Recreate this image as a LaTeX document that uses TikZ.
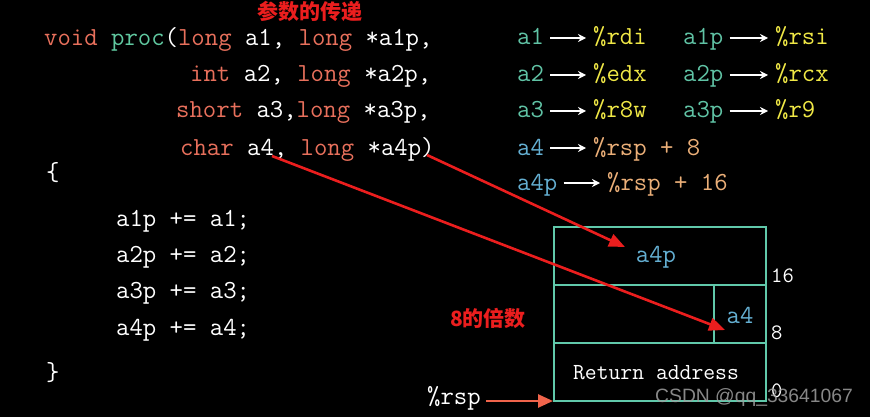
\documentclass[tikz,border=0pt]{standalone}
\usepackage{fontspec}
\usepackage{tikz}
\usetikzlibrary{arrows.meta}
\newfontfamily\cjk{Noto Sans CJK SC}
\newfontfamily\wmfont{Liberation Sans}
\definecolor{kwc}{RGB}{232,112,92}
\definecolor{fnc}{RGB}{96,200,160}
\definecolor{argc}{RGB}{96,195,165}
\definecolor{argbc}{RGB}{100,175,210}
\definecolor{regc}{RGB}{240,232,70}
\definecolor{stkc}{RGB}{235,175,120}
\definecolor{framec}{RGB}{96,200,170}
\definecolor{markc}{RGB}{235,30,30}
\definecolor{rspc}{RGB}{240,100,75}
\newcommand{\kw}[1]{\textcolor{kwc}{#1}}
\tikzset{
  regarg/.style={anchor=west, text=argc, text height=19pt, text depth=5pt, inner xsep=4pt},
  regnm/.style={anchor=west, text=regc, text height=19pt, text depth=5pt, inner xsep=4pt},
  maparr/.style={draw=white, line width=1.4pt, shorten <=2pt, shorten >=3pt, -{Stealth[length=8pt,width=8pt]}},
  redarr/.style={draw=markc, line width=2.6pt, -{Triangle[length=16pt,width=13pt]}},
  framel/.style={draw=framec, line width=2pt},
  offnum/.style={anchor=base west, font=\ttfamily\fontsize{22}{24}\selectfont},
  cjkmark/.style={text=markc, font=\cjk\bfseries\fontsize{21}{21}\selectfont}
}

\begin{document}
\begin{tikzpicture}[x=1pt, y=-1pt, every node/.style={inner sep=0pt, text=white, font=\ttfamily\fontsize{26}{30}\selectfont}]
  \fill[black] (0,0) rectangle (870,417);
  \useasboundingbox (0,0) rectangle (870,417);

  \node[cjkmark] (title) at (310,11) {参数的传递};

  \node[anchor=base west] (l1) at (44,46) {\kw{void} \textcolor{fnc}{proc}(\kw{long} a1, \kw{long} *a1p,};
  \node[anchor=base west] (l2) at (190,82) {\kw{int} a2, \kw{long} *a2p,};
  \node[anchor=base west] (l3) at (176,118) {\kw{short} a3,\kw{long} *a3p,};
  \node[anchor=base west] (l4) at (180,155) {\kw{char} a4, \kw{long} *a4p)};
  \node[anchor=base west] (lb) at (46,180) {\{};
  \node[anchor=base west] (b1) at (116,226) {a1p += a1;};
  \node[anchor=base west] (b2) at (116,262) {a2p += a2;};
  \node[anchor=base west] (b3) at (116,298) {a3p += a3;};
  \node[anchor=base west] (b4) at (116,335) {a4p += a4;};
  \node[anchor=base west] (rb) at (46,380) {\}};

  \node[regarg] (a1) at (513,38) {a1};   \node[regnm] (rdi) at (589,38) {\%rdi};
  \node[regarg] (a1p) at (679,38) {a1p}; \node[regnm] (rsi) at (771,38) {\%rsi};
  \node[regarg] (a2) at (513,75) {a2};   \node[regnm] (edx) at (589,75) {\%edx};
  \node[regarg] (a2p) at (679,75) {a2p}; \node[regnm] (rcx) at (771,75) {\%rcx};
  \node[regarg] (a3) at (513,111) {a3};   \node[regnm] (r8w) at (589,111) {\%r8w};
  \node[regarg] (a3p) at (679,111) {a3p}; \node[regnm] (r9) at (771,111) {\%r9};
  \node[regarg, text=argbc] (a4) at (513,148) {a4};   \node[regnm, text=stkc] (rsp8) at (589,148) {\%rsp + 8};
  \node[regarg, text=argbc] (a4p) at (513,183) {a4p}; \node[regnm, text=stkc] (rsp16) at (603,183) {\%rsp + 16};

  \draw[maparr] (a1) -- (rdi); \draw[maparr] (a1p) -- (rsi);
  \draw[maparr] (a2) -- (edx); \draw[maparr] (a2p) -- (rcx);
  \draw[maparr] (a3) -- (r8w); \draw[maparr] (a3p) -- (r9);
  \draw[maparr] (a4) -- (rsp8); \draw[maparr] (a4p) -- (rsp16);

  \draw[framel] (554,227) rectangle (766,401);
  \draw[framel] (554,285) -- (766,285); \draw[framel] (554,343) -- (766,343); \draw[framel] (714,285) -- (714,343);
  \node[anchor=base, text=argbc] (slota4p) at (656,262) {a4p};
  \node[anchor=base, text=argbc] (slota4) at (740,323) {a4};
  \node[anchor=base, font=\ttfamily\fontsize{23}{26}\selectfont] (ret) at (656,379) {Return address};
  \node[offnum] (o16) at (771,282) {16};
  \node[offnum] (o8) at (771,339) {8};
  \node[offnum] (o0) at (771,397) {0};

  \node[cjkmark] (mult) at (488,318) {8的倍数};

  \node[anchor=base west] (rsp) at (427,404) {\%rsp};
  \coordinate (sp) at (553,401);
  \draw[draw=rspc, line width=2.6pt, -{Triangle[length=15pt,width=13pt]}, shorten <=5pt] (rsp.east |- sp) -- (sp);

  \coordinate (arga4) at (272,156); \coordinate (tipa4) at (725,330);
  \coordinate (arga4p) at (427,155); \coordinate (tipa4p) at (625,247);
  \draw[redarr] (arga4) -- (tipa4); \draw[redarr] (arga4p) -- (tipa4p);

  \node[anchor=base west, text=gray!75!white, opacity=.85, font=\wmfont\fontsize{19.3}{20}\selectfont] (wm) at (655,402) {CSDN @qq\_33641067};
\end{tikzpicture}
\end{document}
